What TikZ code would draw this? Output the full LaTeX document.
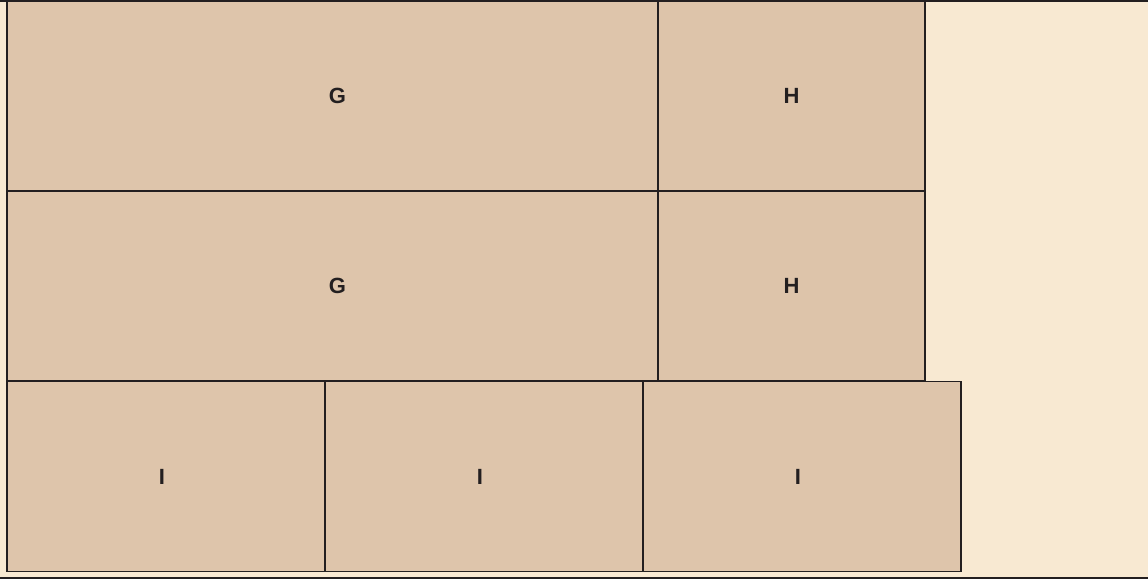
\documentclass[tikz,border=0pt]{standalone}
\usepackage{fontspec}
\setmainfont{Liberation Sans}
\definecolor{cream}{HTML}{F8E9D2}
\definecolor{tan}{HTML}{DEC5AB}
\definecolor{tanh}{HTML}{DDC4AA}
\definecolor{ink}{HTML}{231F20}
\begin{document}
\begin{tikzpicture}[x=1pt,y=-1pt,
  cell/.style={draw=ink,line width=1.4pt,fill=tan,inner sep=0pt},
  lbl/.style={inner sep=0pt,font=\fontsize{22}{22}\selectfont\bfseries,text=ink},
]
\fill[cream] (0,0) rectangle (1148,579);
\useasboundingbox (0,0) rectangle (1148,579);
\draw[ink,line width=2pt] (0,1) -- (1148,1);
\draw[ink,line width=2pt] (0,577.5) -- (1148,577.5);
\node[cell,minimum width=651pt,minimum height=190pt] (g1) at (332.5,96) {};
\node[cell,fill=tanh,minimum width=267pt,minimum height=190pt] (h1) at (791.5,96) {};
\node[cell,minimum width=651pt,minimum height=190pt] (g2) at (332.5,286) {};
\node[cell,fill=tanh,minimum width=267pt,minimum height=190pt] (h2) at (791.5,286) {};
\node[cell,minimum width=318pt,minimum height=190pt] (i1) at (166,476.5) {};
\node[cell,minimum width=318pt,minimum height=190pt] (i2) at (484,476.5) {};
\node[cell,minimum width=318pt,minimum height=190pt] (i3) at (802,476.5) {};
\node[lbl] (tg1) at ([xshift=5pt]g1.center) {G};
\node[lbl] (th1) at (h1.center) {H};
\node[lbl] (tg2) at ([xshift=5pt]g2.center) {G};
\node[lbl] (th2) at (h2.center) {H};
\node[lbl] (ti1) at ([xshift=-4pt]i1.center) {I};
\node[lbl] (ti2) at ([xshift=-4pt]i2.center) {I};
\node[lbl] (ti3) at ([xshift=-4pt]i3.center) {I};
\end{tikzpicture}
\end{document}
